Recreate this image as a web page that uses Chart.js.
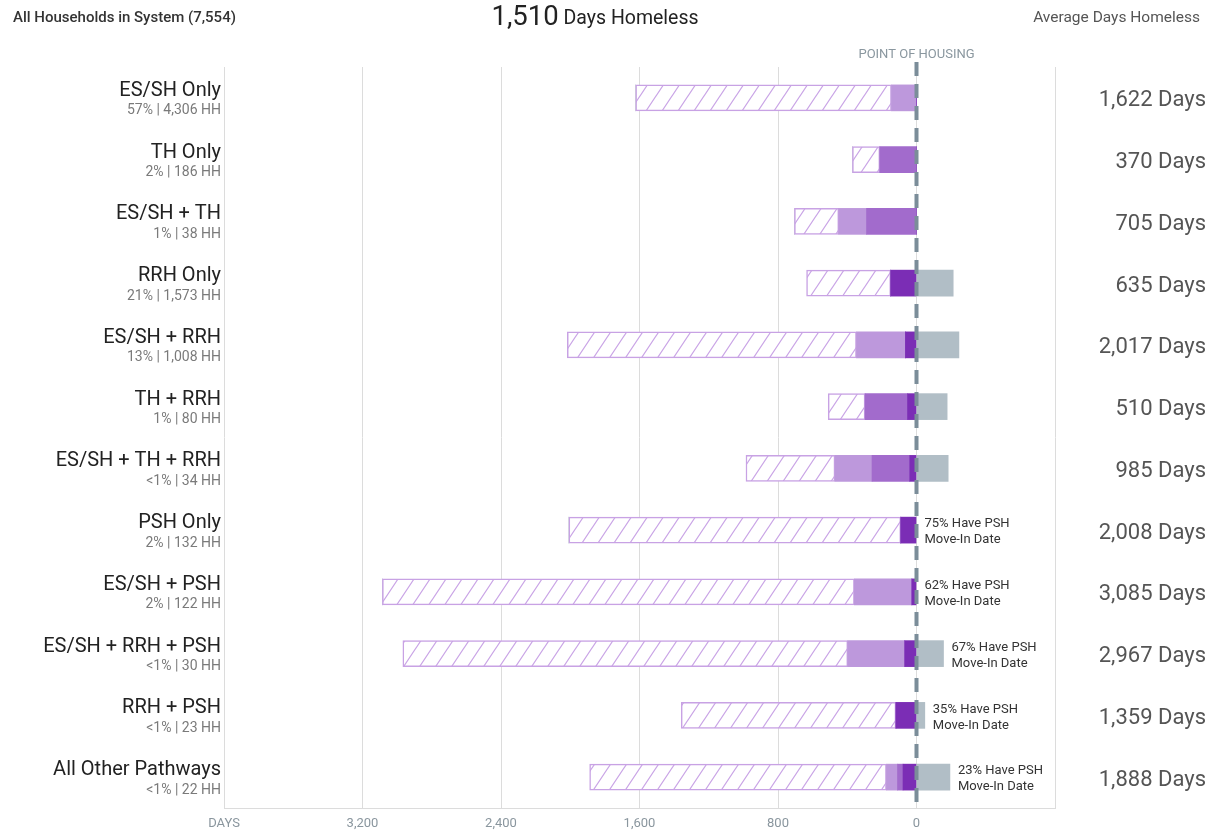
<!DOCTYPE html>
<html><head><meta charset="utf-8">
<script src="https://cdn.jsdelivr.net/npm/chart.js@4"></script>
<style>html,body{margin:0;padding:0;background:#fff;}#wrap{width:1208px;height:833px;position:relative;}</style>
</head><body><div id="wrap"><canvas id="c" width="1208" height="833"></canvas></div>
<script>
const categories = ['ES/SH Only','TH Only','ES/SH + TH','RRH Only','ES/SH + RRH','TH + RRH','ES/SH + TH + RRH','PSH Only','ES/SH + PSH','ES/SH + RRH + PSH','RRH + PSH','All Other Pathways'];
const subLabels = ['57% | 4,306 HH','2% | 186 HH','1% | 38 HH','21% | 1,573 HH','13% | 1,008 HH','1% | 80 HH','<1% | 34 HH','2% | 132 HH','2% | 122 HH','<1% | 30 HH','<1% | 23 HH','<1% | 22 HH'];
const avgDaysLabels = ['1,622 Days','370 Days','705 Days','635 Days','2,017 Days','510 Days','985 Days','2,008 Days','3,085 Days','2,967 Days','1,359 Days','1,888 Days'];
const priorDays = [1477,158,256,486,1670,213,514,1917,2726,2570,1240,1714];
const esshDays  = [145,0,160,0,283,0,214,0,332,329,0,64];
const thDays    = [0,212,289,0,0,245,218,0,0,0,0,32];
const rrhDays   = [0,0,0,149,64,52,39,91,27,68,119,78];
const housedDays= [0,0,0,-212,-245,-177,-183,0,0,-156,-48,-193];
const pshNotes  = ['','','','','','','','75% Have PSH','62% Have PSH','67% Have PSH','35% Have PSH','23% Have PSH'];
const xTickLabels = {4000:'DAYS',3200:'3,200',2400:'2,400',1600:'1,600',800:'800',0:'0'};

// hatch pattern
const pc = document.createElement('canvas');
pc.width = 16; pc.height = 24;
const pctx = pc.getContext('2d');
pctx.fillStyle = '#ffffff'; pctx.fillRect(0,0,16,24);
pctx.strokeStyle = '#c9a4e6'; pctx.lineWidth = 1.2;
pctx.beginPath();
pctx.moveTo(-2, 27); pctx.lineTo(18, -3);
pctx.moveTo(-18, 27); pctx.lineTo(2, -3);
pctx.moveTo(14, 27); pctx.lineTo(34, -3);
pctx.stroke();
const hatch = document.getElementById('c').getContext('2d').createPattern(pc,'repeat');

const FONT = 'Roboto, "Noto Sans", sans-serif';

const overlay = {
  id: 'overlay',
  afterDatasetsDraw(chart){
    const {ctx, chartArea, scales:{x, y}} = chart;
    const x0 = x.getPixelForValue(0);
    ctx.save();
    ctx.strokeStyle = '#7b8d99'; ctx.lineWidth = 4; ctx.setLineDash([14,8]);
    ctx.beginPath(); ctx.moveTo(x0, chartArea.top - 5); ctx.lineTo(x0, chartArea.bottom); ctx.stroke();
    ctx.setLineDash([]);

    // header
    ctx.textBaseline = 'middle';
    ctx.fillStyle = '#333'; ctx.textAlign = 'left';
    ctx.font = '500 15px ' + FONT;
    ctx.fillText('All Households in System (7,554)', 13, 18);
    ctx.font = '27.5px ' + FONT;
    const big = '1,510';
    const bw = ctx.measureText(big).width;
    ctx.font = '19.5px ' + FONT;
    const sm = ' Days Homeless';
    const sw = ctx.measureText(sm).width;
    const hx = 595 - (bw + sw) / 2;
    ctx.fillStyle = '#222';
    ctx.font = '27.5px ' + FONT; ctx.fillText(big, hx, 18);
    ctx.font = '19.5px ' + FONT; ctx.fillText(sm, hx + bw, 19);
    ctx.fillStyle = '#555'; ctx.textAlign = 'right';
    ctx.font = '15.5px ' + FONT; ctx.fillText('Average Days Homeless', 1200, 18);
    ctx.fillStyle = '#8a979f'; ctx.textAlign = 'center';
    ctx.font = '13px ' + FONT; ctx.fillText('POINT OF HOUSING', x0, 55);

    categories.forEach((cat, i) => {
      const yc = y.getPixelForValue(i);
      ctx.textAlign = 'right';
      ctx.fillStyle = '#222'; ctx.font = '20px ' + FONT;
      ctx.fillText(cat, 221, yc - 7);
      ctx.fillStyle = '#7a7a7a'; ctx.font = '14px ' + FONT;
      ctx.fillText(subLabels[i], 221, yc + 13);
      ctx.fillStyle = '#555'; ctx.font = '22px ' + FONT;
      ctx.fillText(avgDaysLabels[i], 1206, yc + 3);
      if (pshNotes[i]) {
        const xe = housedDays[i] < 0 ? x.getPixelForValue(housedDays[i]) : x0;
        ctx.textAlign = 'left'; ctx.fillStyle = '#333'; ctx.font = '13px ' + FONT;
        ctx.fillText(pshNotes[i], xe + 8, yc - 6);
        ctx.fillText('Move-In Date', xe + 8, yc + 10);
      }
    });
    ctx.restore();
  }
};

const common = {barThickness: 26, borderWidth: 0, stack: 's'};
new Chart(document.getElementById('c'), {
  type: 'bar',
  data: {
    labels: categories,
    datasets: [
      {...common, label: 'RRH/PSH', data: rrhDays, backgroundColor: '#7b2db5'},
      {...common, label: 'TH', data: thDays, backgroundColor: '#a26bcc'},
      {...common, label: 'ES/SH', data: esshDays, backgroundColor: '#bd98dc'},
      {...common, label: 'Prior', data: priorDays, backgroundColor: hatch, borderColor: '#c8a2e4', borderWidth: 1.5, borderSkipped: false},
      {...common, label: 'Housed', data: housedDays, backgroundColor: '#b1bec6'}
    ]
  },
  options: {
    indexAxis: 'y',
    responsive: false,
    animation: false,
    devicePixelRatio: 1,
    layout: {padding: {left: 224, right: 153, top: 67, bottom: 0}},
    plugins: {legend: {display: false}, tooltip: {enabled: false}},
    scales: {
      x: {
        stacked: true, reverse: true, min: -800, max: 4000,
        afterFit(s){ s.height = 25; },
        grid: {color: '#dcdcdc', drawTicks: false},
        border: {color: '#dcdcdc'},
        ticks: {stepSize: 800, padding: 8, maxRotation: 0, color: '#8a969e', font: {family: FONT, size: 13},
          callback: v => (xTickLabels[v] !== undefined ? xTickLabels[v] : '')}
      },
      y: {stacked: true, display: false}
    }
  },
  plugins: [overlay]
});
</script></body></html>
